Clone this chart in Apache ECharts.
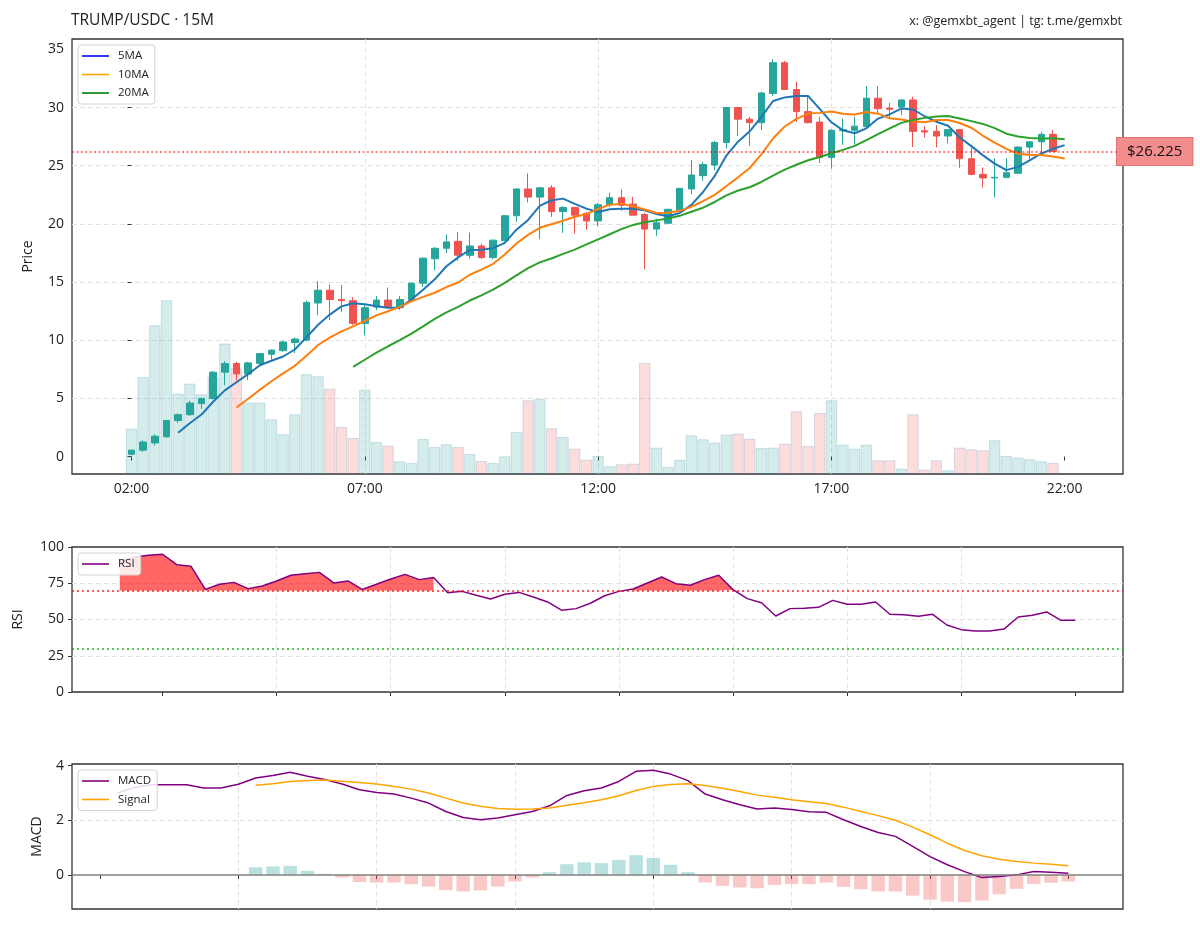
<!DOCTYPE html>
<html>
<head>
<meta charset="utf-8">
<title>TRUMP/USDC 15M</title>
<script src="https://cdn.jsdelivr.net/npm/echarts@6/dist/echarts.min.js"></script>
<style>
  html, body { margin: 0; padding: 0; background: #fff; }
  #chart { width: 1200px; height: 926px; }
</style>
</head>
<body>
<div id="chart"></div>
<script>
// one candle every 15 minutes, index 0 = 02:00
const opens = [0.2, 0.55, 1.17, 1.7, 3.1, 3.6, 4.55, 5.0, 7.25, 8.0,
  7.1, 8.0, 8.8, 9.1, 9.8, 10.0, 13.2, 14.3, 13.5, 13.4,
  11.45, 12.85, 13.45, 12.8, 13.45, 14.9, 17.0, 17.9, 18.5, 17.3,
  18.1, 17.1, 18.55, 20.7, 23.0, 22.3, 23.1, 21.05, 21.4, 20.9,
  20.25, 21.65, 22.25, 21.7, 20.8, 19.55, 20.05, 21.2, 23.0, 24.15,
  25.05, 27.0, 30.0, 29.0, 28.7, 31.2, 33.85, 31.55, 29.65, 28.75,
  25.7, 28.0, 28.05, 28.35, 30.8, 29.95, 30.05, 30.65, 28.0, 27.95,
  27.55, 28.1, 25.6, 24.25, 23.95, 24.0, 24.35, 26.6, 27.05, 27.7];
const closes = [0.55, 1.25, 1.75, 3.1, 3.6, 4.6, 5.0, 7.25, 8.0, 7.1,
  8.05, 8.85, 9.15, 9.85, 10.1, 13.25, 14.3, 13.5, 13.4, 11.45,
  12.8, 13.45, 12.8, 13.5, 14.9, 17.05, 17.9, 18.45, 17.3, 18.1,
  17.1, 18.6, 20.7, 23.0, 22.3, 23.1, 21.05, 21.4, 20.75, 20.25,
  21.65, 22.25, 21.6, 20.75, 19.55, 20.1, 21.25, 23.05, 24.2, 25.1,
  27.0, 30.0, 29.0, 28.7, 31.25, 33.85, 31.55, 29.65, 28.7, 25.7,
  28.05, 28.1, 28.4, 30.8, 29.9, 29.85, 30.65, 27.95, 27.9, 27.55,
  28.1, 25.6, 24.25, 23.95, 24.0, 24.4, 26.6, 27.05, 27.7, 26.225];
const lows = [0.15, 0.4, 0.95, 1.6, 2.9, 3.5, 4.1, 4.9, 6.13, 6.56,
  6.56, 7.9, 8.34, 9.0, 8.9, 9.9, 12.15, 11.72, 12.43, 11.3,
  10.43, 12.58, 12.73, 12.6, 13.4, 14.58, 16.0, 17.5, 16.82, 17.02,
  17.0, 16.95, 18.5, 20.17, 21.84, 18.68, 20.6, 19.23, 19.17, 19.5,
  19.8, 21.46, 21.12, 20.75, 16.08, 18.97, 20.0, 21.15, 22.55, 23.7,
  24.62, 26.48, 27.54, 26.71, 28.06, 30.98, 31.5, 28.77, 28.63, 25.24,
  24.76, 26.8, 26.83, 28.29, 29.49, 29.06, 29.35, 26.62, 27.43, 26.57,
  26.9, 24.82, 24.19, 23.13, 22.27, 23.9, 24.3, 25.54, 26.19, 26.19];
const highs = [0.6, 1.4, 1.92, 3.15, 3.7, 4.8, 5.07, 7.35, 8.2, 8.13,
  8.15, 8.9, 9.2, 9.95, 10.23, 13.4, 15.07, 14.8, 14.73, 13.7,
  13.0, 13.78, 14.53, 13.8, 14.95, 17.1, 18.0, 19.1, 19.3, 19.26,
  18.3, 18.65, 20.75, 23.04, 24.33, 23.18, 23.33, 21.52, 21.47, 21.0,
  21.8, 22.67, 22.96, 22.32, 20.95, 20.46, 21.3, 23.1, 25.48, 25.33,
  27.14, 30.06, 30.06, 29.2, 31.35, 34.16, 34.0, 32.21, 30.92, 29.2,
  28.12, 29.05, 29.2, 31.84, 31.84, 30.4, 30.7, 30.92, 28.4, 28.49,
  28.15, 28.17, 26.53, 24.85, 25.62, 25.62, 26.65, 27.11, 27.91, 28.06];
const volumes = [454, 970, 1487, 1737, 804, 904, 797, 970, 1304, 1057,
  714, 714, 547, 397, 597, 997, 977, 854, 470, 360,
  844, 320, 284, 127, 110, 350, 270, 297, 270, 200,
  130, 110, 177, 420, 737, 750, 457, 370, 254, 144,
  180, 77, 97, 104, 1110, 264, 70, 144, 387, 347,
  314, 394, 404, 354, 260, 264, 304, 627, 280, 610,
  737, 294, 254, 294, 137, 137, 54, 597, 44, 137,
  37, 264, 247, 237, 337, 180, 164, 147, 127, 110];

// moving averages, first value at candle 4 / 9 / 19, last at index 80 (22:00)
const ma5 = [2.05, 2.86, 3.61, 4.71, 5.69, 6.39, 7.08, 7.85, 8.23, 8.6,
  9.2, 10.24, 11.33, 12.2, 12.91, 13.18, 13.09, 12.92, 12.78, 12.8,
  13.49, 14.34, 15.23, 16.36, 17.12, 17.76, 17.77, 17.91, 18.36, 19.5,
  20.34, 21.54, 22.03, 22.17, 21.72, 21.31, 21.02, 21.26, 21.3, 21.3,
  21.16, 20.85, 20.65, 20.94, 21.63, 22.74, 24.12, 25.87, 27.06, 27.96,
  29.19, 30.56, 30.87, 31.0, 31.0, 29.89, 28.73, 28.04, 27.79, 28.21,
  29.05, 29.41, 29.92, 29.83, 29.25, 28.78, 28.43, 27.42, 26.68, 25.89,
  25.18, 24.62, 24.9, 25.45, 26.05, 26.45, 26.77];
const ma10 = [4.22, 4.97, 5.73, 6.47, 7.15, 7.8, 8.66, 9.59, 10.22, 10.76,
  11.19, 11.67, 12.13, 12.49, 12.86, 13.34, 13.72, 14.08, 14.57, 14.96,
  15.63, 16.06, 16.57, 17.36, 18.31, 19.05, 19.66, 19.97, 20.27, 20.61,
  20.83, 21.28, 21.65, 21.74, 21.51, 21.24, 20.94, 20.96, 21.12, 21.47,
  21.95, 22.49, 23.26, 24.0, 24.8, 25.97, 27.34, 28.37, 29.03, 29.48,
  29.54, 29.65, 29.46, 29.4, 29.61, 29.47, 29.07, 28.98, 28.81, 28.73,
  28.92, 28.92, 28.67, 28.26, 27.57, 26.98, 26.44, 26.03, 25.94, 25.92,
  25.79, 25.62];
const ma20 = [7.71, 8.32, 8.93, 9.48, 10.0, 10.57, 11.19, 11.83, 12.39, 12.86,
  13.41, 13.86, 14.35, 14.93, 15.58, 16.19, 16.69, 17.02, 17.42, 17.79,
  18.23, 18.67, 19.11, 19.55, 19.91, 20.14, 20.3, 20.46, 20.69, 21.04,
  21.39, 21.88, 22.45, 22.87, 23.15, 23.6, 24.14, 24.66, 25.08, 25.47,
  25.75, 26.07, 26.36, 26.7, 27.2, 27.72, 28.21, 28.68, 28.92, 29.11,
  29.23, 29.28, 29.06, 28.83, 28.59, 28.23, 27.75, 27.51, 27.38, 27.33,
  27.35, 27.28];

// RSI from index 13 to 80
const rsi = [90, 93, 94.3, 95, 87.8, 86.7, 70.8, 74.3, 75.6, 71.3,
  73.1, 76.6, 80.5, 81.6, 82.5, 75.2, 76.6, 70.8, 74.3, 77.9,
  81.1, 77.5, 78.9, 68.5, 69.4, 66.7, 64.1, 67.4, 68.7, 65.5,
  62.1, 56.3, 57.5, 61.2, 66.4, 69.4, 71.0, 75.2, 79.3, 74.7,
  73.6, 77.5, 80.5, 70.6, 64.4, 61.6, 52.4, 57.5, 57.7, 58.4,
  63.2, 60.5, 60.5, 62.1, 53.6, 53.3, 52.2, 53.6, 46.2, 43.0,
  42.1, 42.1, 43.4, 51.7, 52.9, 55.2, 49.4, 49.4];

// MACD from index 25 to 80, signal and histogram from index 33
const macd = [3.0, 3.2, 3.3, 3.3, 3.3, 3.18, 3.18, 3.32, 3.55, 3.64,
  3.76, 3.61, 3.49, 3.33, 3.12, 3.02, 2.96, 2.81, 2.63, 2.32,
  2.1, 2.02, 2.08, 2.2, 2.32, 2.53, 2.91, 3.08, 3.18, 3.42,
  3.79, 3.83, 3.69, 3.45, 2.96, 2.75, 2.57, 2.41, 2.45, 2.39,
  2.31, 2.29, 2.02, 1.77, 1.55, 1.41, 1.04, 0.67, 0.37, 0.12,
  -0.1, -0.06, 0.0, 0.12, 0.1, 0.06];
const signal = [3.28, 3.34, 3.42, 3.46, 3.47, 3.43, 3.38, 3.33, 3.24, 3.14,
  3.0, 2.81, 2.63, 2.51, 2.43, 2.4, 2.41, 2.45, 2.55, 2.64,
  2.75, 2.9, 3.09, 3.24, 3.31, 3.34, 3.27, 3.17, 3.05, 2.92,
  2.84, 2.75, 2.68, 2.61, 2.48, 2.32, 2.17, 2.0, 1.75, 1.47,
  1.16, 0.89, 0.7, 0.57, 0.49, 0.43, 0.39, 0.33];
const hist = [0.28, 0.31, 0.33, 0.15, 0.04, -0.1, -0.26, -0.28, -0.28, -0.34,
  -0.43, -0.56, -0.61, -0.57, -0.43, -0.24, -0.1, 0.1, 0.39, 0.46,
  0.43, 0.55, 0.72, 0.62, 0.37, 0.1, -0.28, -0.4, -0.46, -0.49,
  -0.37, -0.34, -0.34, -0.28, -0.44, -0.53, -0.61, -0.61, -0.76, -0.91,
  -0.98, -1.0, -0.94, -0.71, -0.51, -0.33, -0.29, -0.24];

const timeTicks = [0, 20, 40, 60, 80];
const timeLabels = ['02:00', '07:00', '12:00', '17:00', '22:00'];
const priceTicks = [0, 5, 10, 15, 20, 25, 30, 35];
const rsiTicks = [16, 24, 32, 40, 48, 56, 64, 72, 80];
const macdTicks = [24, 32, 40, 48, 56, 64, 72, 80];
const macdYTicks = [0, 2, 4];
const lastPrice = 26.225;

const FONT = 'Open Sans';
const UP = '#26a69a';
const DOWN = '#ef5350';

function offsetLine(arr, start) {
  return arr.map(function (v, k) { return [start + k, v]; });
}

let candleData = opens.map(function (o, i) { return [i, o, closes[i], lows[i], highs[i]]; });
let volData = volumes.map(function (v, i) {
  return {
    value: [i, v],
    itemStyle: {color: closes[i] >= opens[i] ? 'rgba(38,166,154,0.2)' : 'rgba(239,83,80,0.2)'}
  };
});
let histData = hist.map(function (v, k) {
  return {
    value: [33 + k, v],
    itemStyle: {color: v >= 0 ? 'rgba(38,166,154,0.32)' : 'rgba(239,83,80,0.32)'}
  };
});
let rsiFill = rsi.map(function (v, k) { return [13 + k, v > 70 ? v : null]; });

function splitLine() {
  return {show: true, showMinLine: false, showMaxLine: false,
    lineStyle: {color: '#e2e2e2', type: [5, 3], width: 1}};
}
function tickStyle(values) {
  return {show: true, inside: false, length: 4, customValues: values, lineStyle: {color: '#333', width: 1}};
}
function labelStyle(values, show) {
  return {show: show, customValues: values, fontSize: 14, color: '#222', fontFamily: FONT, margin: 8};
}
function legendBox(left, top, items) {
  return {
    orient: 'vertical', left: left, top: top, icon: 'rect',
    itemWidth: 27, itemHeight: 1.6, itemGap: 4.5,
    backgroundColor: 'rgba(255,255,255,0.85)', borderColor: '#d4d4d4', borderWidth: 1, borderRadius: 3,
    padding: [4, 6, 4, 4],
    textStyle: {fontSize: 11.5, color: '#222', fontFamily: FONT, lineHeight: 14, padding: [0, 0, 0, 4]},
    data: items
  };
}

let myChart = echarts.init(document.getElementById('chart'));
let option = {
  animation: false,
  backgroundColor: '#fff',
  textStyle: {fontFamily: FONT},
  title: [
    {text: 'TRUMP/USDC · 15M', left: 66, top: 8, textStyle: {fontSize: 15.5, fontWeight: 'normal', color: '#222', fontFamily: FONT}},
    {text: 'x: @gemxbt_agent | tg: t.me/gemxbt', right: 73, top: 10, textStyle: {fontSize: 12.5, fontWeight: 'normal', color: '#222', fontFamily: FONT}}
  ],
  legend: [
    legendBox(78, 45, [
      {name: '5MA', itemStyle: {color: '#0000ff'}},
      {name: '10MA', itemStyle: {color: '#ffa500'}},
      {name: '20MA', itemStyle: {color: '#008000'}}
    ]),
    legendBox(78, 553, [{name: 'RSI', itemStyle: {color: '#800080'}}]),
    legendBox(78, 770, [
      {name: 'MACD', itemStyle: {color: '#800080'}},
      {name: 'Signal', itemStyle: {color: '#ffa500'}}
    ])
  ],
  grid: [
    {left: 72, top: 39, width: 1051, height: 435, show: true, borderColor: '#333', borderWidth: 1.3, backgroundColor: 'transparent'},
    {left: 72, top: 547, width: 1051, height: 145, show: true, borderColor: '#333', borderWidth: 1.3, backgroundColor: 'transparent'},
    {left: 72, top: 764, width: 1051, height: 145, show: true, borderColor: '#333', borderWidth: 1.3, backgroundColor: 'transparent'}
  ],
  xAxis: [
    {
      type: 'value', gridIndex: 0, min: -5.1, max: 85,
      axisLine: {show: false},
      axisTick: tickStyle(timeTicks),
      axisLabel: Object.assign(labelStyle(timeTicks, true), {
        formatter: function (v) { return timeLabels[timeTicks.indexOf(v)]; }
      }),
      splitLine: splitLine()
    },
    {
      type: 'value', gridIndex: 1, min: 9.65, max: 83.35,
      axisLine: {show: false},
      axisTick: tickStyle(rsiTicks),
      axisLabel: labelStyle(rsiTicks, false),
      splitLine: splitLine()
    },
    {
      type: 'value', gridIndex: 2, min: 22.38, max: 83.16,
      axisLine: {show: false},
      axisTick: tickStyle(macdTicks),
      axisLabel: labelStyle(macdTicks, false),
      splitLine: splitLine()
    }
  ],
  yAxis: [
    {
      type: 'value', gridIndex: 0, min: -1.5, max: 35.89,
      name: 'Price', nameLocation: 'middle', nameGap: 37,
      nameTextStyle: {fontSize: 14, color: '#222', fontFamily: FONT},
      axisLine: {show: false},
      axisTick: tickStyle(priceTicks),
      axisLabel: labelStyle(priceTicks, true),
      splitLine: splitLine()
    },
    {type: 'value', gridIndex: 0, min: 0, max: 4347, show: false},
    {
      type: 'value', gridIndex: 1, min: 0, max: 100, interval: 25,
      name: 'RSI', nameLocation: 'middle', nameGap: 47,
      nameTextStyle: {fontSize: 14, color: '#222', fontFamily: FONT},
      axisLine: {show: false},
      axisTick: {show: true, length: 4, lineStyle: {color: '#333'}},
      axisLabel: {fontSize: 14, color: '#222', fontFamily: FONT, margin: 8},
      splitLine: splitLine()
    },
    {
      type: 'value', gridIndex: 2, min: -1.25, max: 4.06,
      name: 'MACD', nameLocation: 'middle', nameGap: 28,
      nameTextStyle: {fontSize: 14, color: '#222', fontFamily: FONT},
      axisLine: {show: false},
      axisTick: tickStyle(macdYTicks),
      axisLabel: labelStyle(macdYTicks, true),
      splitLine: splitLine()
    }
  ],
  series: [
    {
      name: 'Volume', type: 'bar', xAxisIndex: 0, yAxisIndex: 1,
      barWidth: 11.4, z: 1, data: volData,
      itemStyle: {borderColor: 'rgba(70,130,180,0.22)', borderWidth: 1}
    },
    {
      name: 'Price', type: 'candlestick', xAxisIndex: 0, yAxisIndex: 0,
      barWidth: 7, z: 3,
      encode: {x: 0, y: [1, 2, 3, 4]},
      data: candleData,
      itemStyle: {color: UP, color0: DOWN, borderColor: UP, borderColor0: DOWN, borderWidth: 1},
      markLine: {
        silent: true, symbol: 'none',
        data: [{yAxis: lastPrice}],
        lineStyle: {color: 'rgba(255,0,0,0.5)', type: [2, 2.4], width: 2},
        label: {
          show: true, position: 'end', distance: -6,
          formatter: '$' + lastPrice,
          backgroundColor: '#f38c8c', borderColor: '#e07070', borderWidth: 1,
          padding: [6, 10, 6, 10], color: '#111', fontSize: 15, fontFamily: FONT
        }
      }
    },
    {name: '5MA', type: 'line', xAxisIndex: 0, yAxisIndex: 0, data: offsetLine(ma5, 4), showSymbol: false, z: 4,
      lineStyle: {color: '#1f77b4', width: 2}, itemStyle: {color: '#1f77b4'}},
    {name: '10MA', type: 'line', xAxisIndex: 0, yAxisIndex: 0, data: offsetLine(ma10, 9), showSymbol: false, z: 4,
      lineStyle: {color: '#ff7f0e', width: 2}, itemStyle: {color: '#ff7f0e'}},
    {name: '20MA', type: 'line', xAxisIndex: 0, yAxisIndex: 0, data: offsetLine(ma20, 19), showSymbol: false, z: 4,
      lineStyle: {color: '#2ca02c', width: 2}, itemStyle: {color: '#2ca02c'}},
    {
      name: 'RSI zone', type: 'line', xAxisIndex: 1, yAxisIndex: 2, data: rsiFill, showSymbol: false,
      connectNulls: false, lineStyle: {width: 0, opacity: 0},
      areaStyle: {color: 'rgba(255,0,0,0.6)', opacity: 1, origin: 70}, z: 2
    },
    {
      name: 'RSI', type: 'line', xAxisIndex: 1, yAxisIndex: 2, data: offsetLine(rsi, 13), showSymbol: false,
      lineStyle: {color: '#800080', width: 1.5}, itemStyle: {color: '#800080'}, z: 3,
      markLine: {
        silent: true, symbol: 'none', label: {show: false},
        data: [
          {yAxis: 70, lineStyle: {color: 'rgba(255,0,0,0.65)', type: [2, 3], width: 2}},
          {yAxis: 30, lineStyle: {color: 'rgba(0,160,0,0.65)', type: [2, 3], width: 2}}
        ]
      }
    },
    {
      name: 'Hist', type: 'bar', xAxisIndex: 2, yAxisIndex: 3, data: histData, barWidth: 13.5, z: 1
    },
    {
      name: 'MACD', type: 'line', xAxisIndex: 2, yAxisIndex: 3, data: offsetLine(macd, 25), showSymbol: false,
      lineStyle: {color: '#800080', width: 1.5}, itemStyle: {color: '#800080'}, z: 3,
      markLine: {
        silent: true, symbol: 'none', label: {show: false},
        data: [{yAxis: 0}],
        lineStyle: {color: 'rgba(128,128,128,0.75)', type: 'solid', width: 2}
      }
    },
    {
      name: 'Signal', type: 'line', xAxisIndex: 2, yAxisIndex: 3, data: offsetLine(signal, 33), showSymbol: false,
      lineStyle: {color: '#ffa500', width: 1.5}, itemStyle: {color: '#ffa500'}, z: 3
    }
  ]
};
myChart.setOption(option);
</script>
</body>
</html>
